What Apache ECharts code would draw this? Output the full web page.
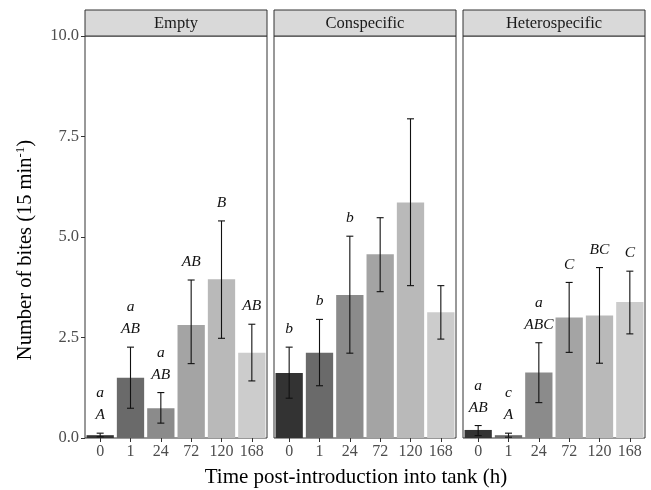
<!DOCTYPE html>
<html>
<head>
<meta charset="utf-8">
<script src="https://cdn.jsdelivr.net/npm/echarts@6/dist/echarts.min.js"></script>
<style>
  html, body { margin: 0; padding: 0; background: #fff; }
  #chart { width: 651px; height: 490px; }
</style>
</head>
<body>
<div id="chart"></div>
<script>
'use strict'

// data
const times = ['0', '1', '24', '72', '120', '168']
const panels = ['Empty', 'Conspecific', 'Heterospecific']

const emptyMean = [0.07, 1.50, 0.74, 2.81, 3.95, 2.12]
const emptyLow = [0.03, 0.74, 0.37, 1.85, 2.48, 1.42]
const emptyHigh = [0.12, 2.26, 1.13, 3.93, 5.40, 2.83]
const emptyLetters = ['a\nA', 'a\nAB', 'a\nAB', 'AB', 'B', 'AB']

const conMean = [1.62, 2.12, 3.56, 4.57, 5.86, 3.13]
const conLow = [0.99, 1.30, 2.11, 3.64, 3.79, 2.46]
const conHigh = [2.26, 2.95, 5.02, 5.48, 7.94, 3.79]
const conLetters = ['b', 'b', 'b', '', '', '']

const hetMean = [0.20, 0.07, 1.63, 3.00, 3.05, 3.38]
const hetLow = [0.06, 0.02, 0.88, 2.13, 1.86, 2.59]
const hetHigh = [0.31, 0.12, 2.37, 3.87, 4.24, 4.15]
const hetLetters = ['a\nAB', 'c\nA', 'a\nABC', 'C', 'BC', 'C']

const yTicks = { min: 0, max: 10, interval: 2.5 }

// grey.colors(6, 0.2, 0.8)
const fills = ['#333333', '#6a6a6a', '#8b8b8b', '#a4a4a4', '#b9b9b9', '#cccccc']

const SERIF = '"Liberation Serif", "Times New Roman", serif'

// panel layout (px)
const panelLeft = [85, 274, 463]
const panelWidth = 182
const panelTop = 36
const panelBottom = 438
const stripTop = 10

const facets = [
  { mean: emptyMean, low: emptyLow, high: emptyHigh, letters: emptyLetters },
  { mean: conMean, low: conLow, high: conHigh, letters: conLetters },
  { mean: hetMean, low: hetLow, high: hetHigh, letters: hetLetters }
]

const chart = echarts.init(document.getElementById('chart'), null, { renderer: 'canvas' })

const grid = panelLeft.map(l => ({
  left: l,
  width: panelWidth,
  top: panelTop,
  height: panelBottom - panelTop,
  containLabel: false,
  outerBoundsMode: 'none',
  show: true,
  borderColor: '#333333',
  borderWidth: 1,
  backgroundColor: '#ffffff'
}))

const xAxis = panelLeft.map((l, i) => ({
  type: 'category',
  gridIndex: i,
  data: times,
  axisLine: { show: false },
  axisTick: { show: true, interval: 0, length: 4, lineStyle: { color: '#333333' }, alignWithLabel: true },
  axisLabel: { interval: 0, hideOverlap: false, color: '#4d4d4d', fontFamily: SERIF, fontSize: 16, margin: 6 },
  splitLine: { show: false }
}))

const yAxis = panelLeft.map((l, i) => ({
  type: 'value',
  gridIndex: i,
  min: yTicks.min,
  max: yTicks.max,
  interval: yTicks.interval,
  axisLine: { show: false },
  axisTick: { show: i === 0, length: 4, lineStyle: { color: '#333333' } },
  axisLabel: {
    show: i === 0,
    color: '#4d4d4d',
    fontFamily: SERIF,
    fontSize: 16.5,
    margin: 6,
    formatter: v => v.toFixed(1)
  },
  splitLine: { show: false }
}))

const series = []
facets.forEach((f, i) => {
  series.push({
    type: 'bar',
    xAxisIndex: i,
    yAxisIndex: i,
    barCategoryGap: '10%',
    data: f.mean.map((v, j) => ({ value: v, itemStyle: { color: fills[j] } })),
    z: 2
  })
  series.push({
    type: 'custom',
    xAxisIndex: i,
    yAxisIndex: i,
    z: 3,
    data: f.mean.map((v, j) => [j, f.low[j], f.high[j]]),
    renderItem: (params, api) => {
      const lo = api.coord([api.value(0), api.value(1)])
      const hi = api.coord([api.value(0), api.value(2)])
      const x = lo[0]
      const cap = 3.5
      const stroke = { stroke: '#111', lineWidth: 1.1 }
      return {
        type: 'group',
        children: [
          { type: 'line', shape: { x1: x, y1: lo[1], x2: x, y2: hi[1] }, style: stroke },
          { type: 'line', shape: { x1: x - cap, y1: lo[1], x2: x + cap, y2: lo[1] }, style: stroke },
          { type: 'line', shape: { x1: x - cap, y1: hi[1], x2: x + cap, y2: hi[1] }, style: stroke },
          {
            type: 'text',
            style: {
              text: f.letters[params.dataIndex],
              x: x,
              y: hi[1] - 7,
              align: 'center',
              verticalAlign: 'bottom',
              fontFamily: SERIF,
              fontStyle: 'italic',
              fontSize: 15.5,
              lineHeight: 22,
              fill: '#111'
            }
          }
        ]
      }
    }
  })
})

// facet strips
const graphic = panelLeft.map((l, i) => ({
  type: 'group',
  children: [
    {
      type: 'rect',
      shape: { x: l, y: stripTop, width: panelWidth, height: panelTop - stripTop },
      style: { fill: '#d9d9d9', stroke: '#333333', lineWidth: 1 }
    },
    {
      type: 'text',
      style: {
        text: panels[i],
        x: l + panelWidth / 2,
        y: (stripTop + panelTop) / 2 + 1,
        align: 'center',
        verticalAlign: 'middle',
        fontFamily: SERIF,
        fontSize: 16.5,
        fill: '#1a1a1a'
      }
    }
  ]
}))

// axis titles
graphic.push({
  type: 'text',
  x: 356,
  y: 477,
  style: {
    text: 'Time post-introduction into tank (h)',
    align: 'center',
    verticalAlign: 'middle',
    fontFamily: SERIF,
    fontSize: 21,
    fill: '#000'
  }
})
graphic.push({
  type: 'text',
  x: 26,
  y: 250,
  rotation: Math.PI / 2,
  style: {
    text: '{a|Number of bites (15 min}{s|-1}{a|)}',
    align: 'center',
    verticalAlign: 'middle',
    rich: {
      a: { fill: '#000', fontFamily: SERIF, fontSize: 20.5 },
      s: { fill: '#000', fontFamily: SERIF, fontSize: 13, padding: [0, 0, 10, 0] }
    }
  }
})

chart.setOption({
  animation: false,
  backgroundColor: '#ffffff',
  grid,
  xAxis,
  yAxis,
  series,
  graphic
})
</script>
</body>
</html>
